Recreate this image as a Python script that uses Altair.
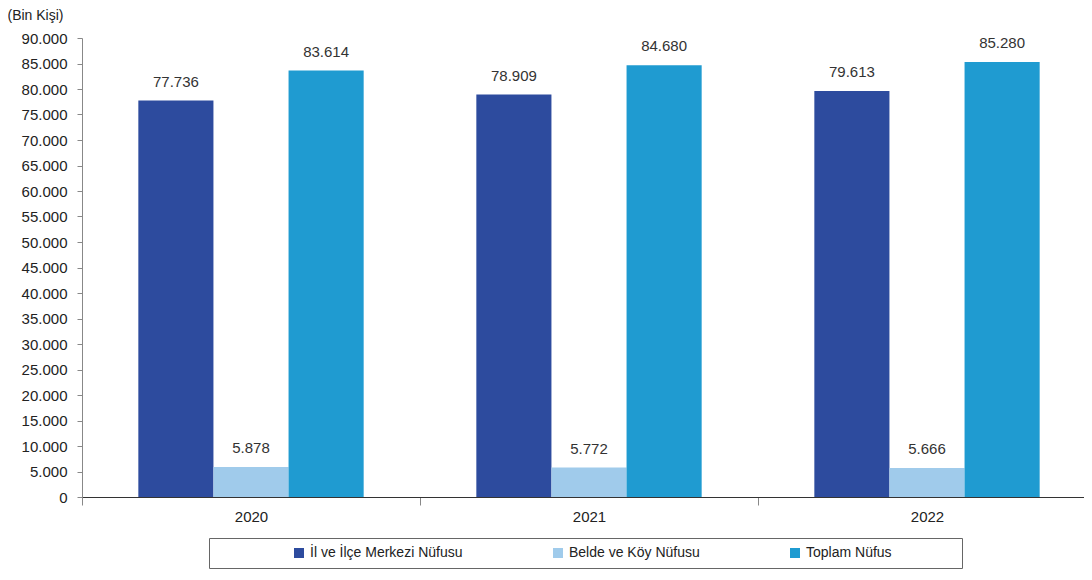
import altair as alt
import pandas as pd

years = ["2020", "2021", "2022"]
series = ["İl ve İlçe Merkezi Nüfusu", "Belde ve Köy Nüfusu", "Toplam Nüfus"]
il_ilce = [77736, 78909, 79613]
belde_koy = [5878, 5772, 5666]
toplam = [83614, 84680, 85280]
colors = ["#2D4B9E", "#A0CBEB", "#1F9BD1"]
y_ticks = list(range(0, 90001, 5000))

rows = []
for i, y in enumerate(years):
    for s, vals in zip(series, [il_ilce, belde_koy, toplam]):
        rows.append({"year": y, "series": s, "value": vals[i]})
df = pd.DataFrame(rows)

FONT = "Liberation Sans"

x = alt.X("year:N", title=None,
          scale=alt.Scale(paddingInner=0, paddingOuter=0, range=[0, 1014]),
          axis=alt.Axis(labelAngle=0, tickBand="extent", tickSize=8,
                        labelFontSize=15, labelPadding=4, labelColor="#222",
                        domainColor="#333", tickColor="#888", labelFont=FONT))
xoff = alt.XOffset("series:N", sort=series,
                   scale=alt.Scale(paddingInner=0, paddingOuter=0.75))
y = alt.Y("value:Q", title="(Bin Kişi)",
          scale=alt.Scale(domain=[0, 90000], nice=False),
          axis=alt.Axis(values=y_ticks, grid=False, tickSize=5,
                        labelOverlap=False, labelBound=False,
                        labelExpr="replace(format(datum.value, ','), ',', '.')",
                        labelFontSize=15, labelPadding=10, labelColor="#222",
                        labelFont=FONT, domainColor="#888", tickColor="#888",
                        titleAngle=0, titleX=-75, titleY=-30, titleAlign="left",
                        titleBaseline="top",
                        titleFontWeight="normal", titleFontSize=14, titleFont=FONT,
                        titleColor="#222"))

base = alt.Chart(df).encode(x=x, xOffset=xoff, y=y)

bars = base.mark_bar().encode(
    color=alt.Color("series:N", sort=series,
                    scale=alt.Scale(domain=series, range=colors),
                    legend=alt.Legend(orient="none", direction="horizontal",
                                      legendX=127, legendY=500, title="\u00a0",
                                      titleOrient="right", titlePadding=62,
                                      titleFontSize=10,
                                      symbolType="square", symbolSize=100,
                                      symbolStrokeWidth=0, symbolOffset=75,
                                      columnPadding=13, labelFontSize=14,
                                      labelFont=FONT, labelColor="#222",
                                      padding=8, strokeColor="#666",
                                      labelLimit=300)),
)

labels = base.mark_text(dy=-11, baseline="bottom", fontSize=15, font=FONT,
                        color="#333").transform_calculate(
    label="replace(format(datum.value, ','), ',', '.')"
).encode(text="label:N")

chart = alt.layer(bars, labels).properties(
    width=1002, height=459,
    autosize=alt.AutoSizeParams(type="none"),
    padding={"left": 74, "top": 30, "right": 0, "bottom": 75},
).configure_view(stroke=None)

chart.save("out.html", embed_options={"renderer": "svg", "actions": False})
